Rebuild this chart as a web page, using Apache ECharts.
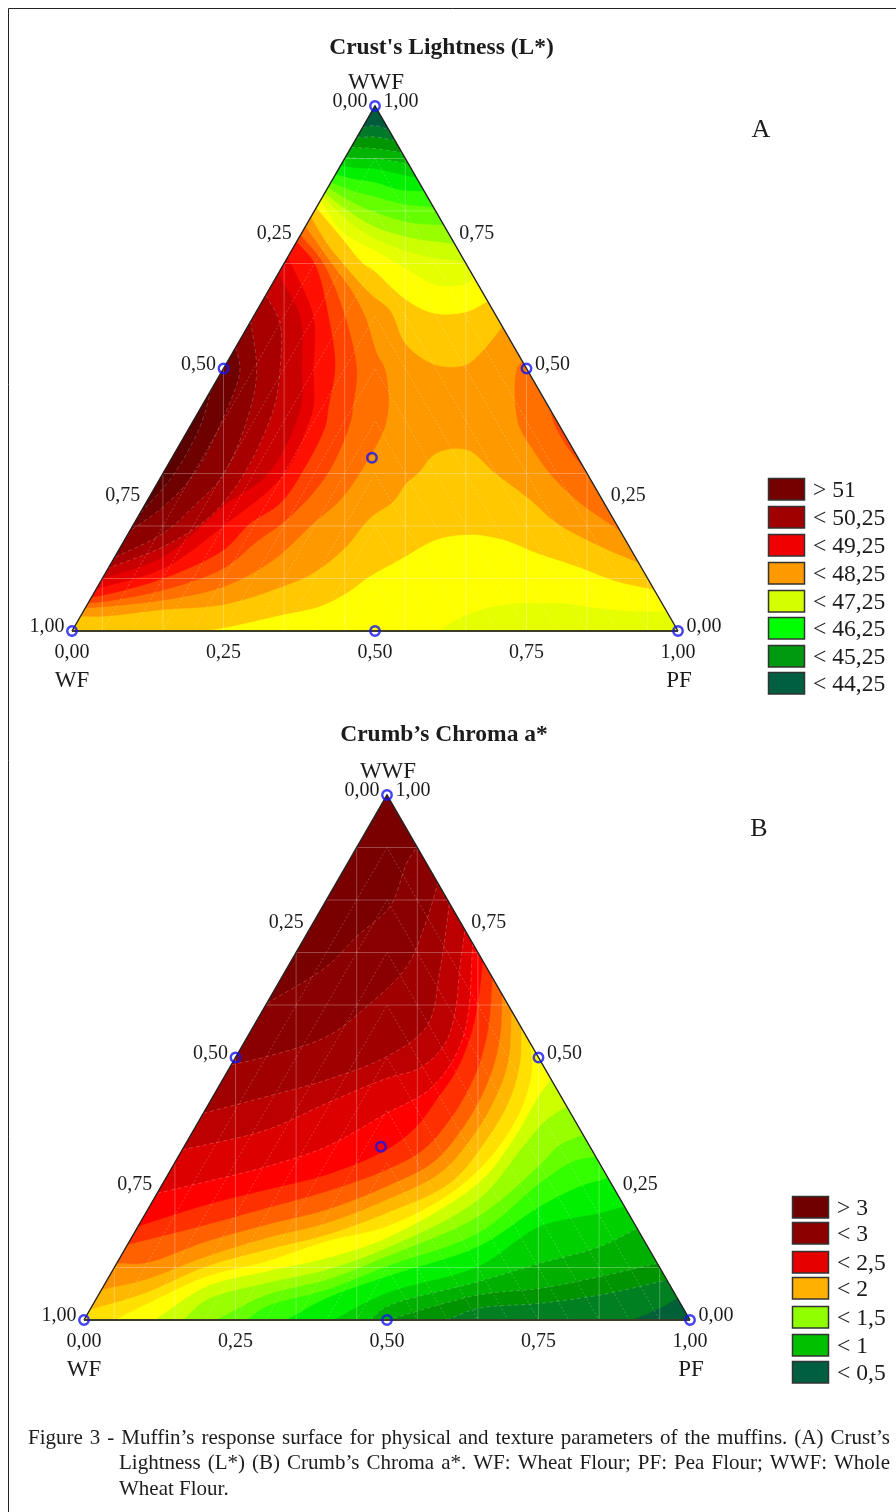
<!DOCTYPE html>
<html><head><meta charset="utf-8">
<style>html,body{margin:0;padding:0;background:#fff}#c{width:896px;height:1512px}</style>
<script src="https://cdn.jsdelivr.net/npm/echarts@6/dist/echarts.min.js"></script>
</head><body><div id="c"></div>
<script>
// All contour curves: [horizontal %, WWF %] in the ternary plot.
// ---------- Chart A : bands around the top vertex ----------
const A_top_colors=['#ffc800','#ffff00','#e6ff00','#ccff00','#99ff00','#66ff00','#33ff00','#00f000','#00d200','#00b400','#009600','#007a28','#005a3c'];
const A_c8=[[39.45,78.9],[42,74],[44.75,70],[49.17,64.32],[52.47,61.14],[55.22,54.47],[60.17,50.66],[64.85,50.66],[67.87,53.52],[71,58]];
const A_ff=[[40.33,80.66],[44.8,74.5],[48.05,70],[49.72,68.76],[55.22,63.04],[59.9,60.51],[65.12,60.82],[68.6,62.8]];
const A_e6=[[41,82],[44.77,75.9],[50,72.5],[55.5,68.76],[60.17,65.9],[65.12,66.22],[66.3,67.4]];
const A_b9=[[41.4,82.8],[45.5,78.2],[50,74.8],[57.2,71.7],[64.85,70.3]];
const A_b8=[[41.7,83.4],[45.8,79.9],[50,77],[56.5,74.8],[63.1,73.8]];
const A_b7=[[42.25,84.5],[46.1,81.8],[50,79.8],[55.5,77.9],[61.35,77.3]];
const A_b6=[[42.75,85.5],[46.3,83.9],[50,82.8],[54.9,81.3],[59.6,80.8]];
const A_b5=[[43.5,87],[46.7,86.1],[50,85.5],[54,84.1],[58.1,83.8]];
const A_b4=[[44.35,88.7],[47.2,88.2],[50,88.1],[53,87.3],[56.8,86.4]];
const A_b3=[[45.15,90.3],[47.5,90],[50,90],[52.5,89.6],[55.55,88.9]];
const A_b2=[[46.05,92.1],[50,91.9],[54.45,91.1]];
const A_b1=[[47,94],[50,94.1],[53.3,93.4]];
const A_b0=[[47.95,95.9],[50,96.3],[52.25,95.5]];
const A_top_curves=[A_c8,A_ff,A_e6,A_b9,A_b8,A_b7,A_b6,A_b5,A_b4,A_b3,A_b2,A_b1,A_b0];
// Chart A : bands rising from the bottom side
const A_bottom_colors=['#ffc800','#ffff00','#e6ff00'];
const A_d_c8=[[1.37,2.73],[5.17,2.73],[15.07,3.99],[24.97,4.95],[34.87,8.44],[39.82,10.98],[45.05,15.75],[49.18,21.46],[53.02,24.6],[55.22,28.13],[57.15,30.03],[60.17,33.84],[65.12,34.48],[69.8,30.03],[75.57,24.95],[79.97,20.51],[86.57,16.38],[93.56,12.89]];
const A_d_ff=[[22.2,0],[24.97,0.51],[34.87,3.05],[40.92,4.63],[45.33,7.17],[49.17,10.35],[54.12,13.53],[60.17,17.33],[65.67,18.29],[71.17,17.33],[76.67,14.79],[83.27,12.26],[89.87,9.4],[96.1,7.8]];
const A_d_e6=[[60.45,0],[64.57,2.73],[68.42,4.32],[72.82,5.14],[77.22,5.27],[82.17,5.08],[86.57,4.32],[93.17,3.68],[98.16,3.68]];
const A_bottom_curves=[A_d_c8,A_d_ff,A_d_e6];
// Chart A : patch on the right side
const A_right_colors=['#ff7000','#ff4400'];
const A_r_70=[[74.3,51.4],[73.37,49.72],[73.65,39.56],[76.12,34.48],[78.87,30.03],[83.27,24.95],[90.5,19]];
const A_r_44=[[78.95,42.1],[79.6,39.5],[81.5,35.5],[84.6,30.8]];
const A_right_curves=[A_r_70,A_r_44];
// Chart A : nested reds on the left side
const A_left_colors=['#ff7000','#ff4400','#ff1000','#e60000','#c80000','#a80000','#8c0000','#6e0000','#5a0000'];
const A_k70=[[38.5,77],[42.8,70],[46,65],[48.35,59.87],[50.27,52.89],[51.65,49.71],[51.92,40.19],[47.8,30.67],[44.22,24.95],[39.82,20.51],[33.22,13.52],[24.97,8.44],[15.07,5.91],[5.17,4.63],[2.2,4.4]];
const A_k44=[[37.7,75.4],[41.45,70],[45.05,59.87],[46.97,49.71],[46.42,43.36],[45.87,39.55],[42.02,29.72],[35.97,21.78],[30.47,17.02],[24.97,11.94],[15.07,7.81],[5.17,5.59],[2.65,5.3]];
const A_k10=[[37.05,74.1],[40,70],[42.3,59.9],[43.4,50.35],[42.3,42.73],[41.75,38.92],[38.17,30.67],[34.32,24.32],[29.37,20.51],[24.97,15.43],[15.07,10.03],[5.17,6.86],[3.25,6.5]];
const A_ke6=[[35.6,71.2],[39.8,59.87],[39.82,49.72],[39.82,42.73],[39,39.56],[34.87,29.72],[25.52,20.51],[15.07,11.94],[5.17,8.44],[4.05,8.1]];
const A_kc8=[[34,68],[37.62,59.87],[37.9,49.72],[37.62,42.1],[32.12,29.72],[25.52,24.32],[15.07,14.16],[5,10]];
const A_ka8=[[32,64],[34.32,58.6],[34.32,49.72],[33.22,42.1],[28.27,29.72],[22.77,21.78],[15.07,16.06],[6,12]];
const A_k8c=[[29.5,59],[30.47,49.72],[29.37,42.1],[24.97,29.72],[20.02,23.68],[15.07,18.6],[7,14]];
const A_k6e=[[27,54],[27.72,49.72],[25.52,42.1],[20.02,29.72],[15.07,23.68],[9.5,19]];
const A_k5a=[[23,46],[21.12,38.92],[16.72,29.72],[11,22]];
const A_left_curves=[A_k70,A_k44,A_k10,A_ke6,A_kc8,A_ka8,A_k8c,A_k6e,A_k5a];
const A_base_color='#ff9900';
// ---------- Chart B : every band seen from the PF / bottom side ----------
const B_base_color='#7a0000';
const B_colors=['#8a0000','#a00000','#bc0000','#dc0000','#ff0000','#ff3000','#ff6000','#ff9000','#ffb800','#ffe000','#ffff00','#ccff00','#99ff00','#66ff00','#33ff00','#00f000','#00d000','#00b000','#009400','#008020','#006038'];
const B_8c=[[30.2,60.3],[40.04,67.3],[44.99,73.02],[50.49,78.73],[53.24,86.99],[54.92,90.16]];
const B_a8=[[24.3,48.6],[30.14,50.16],[40.04,53.97],[46.64,59.68],[53.24,67.3],[56.54,76.19],[58.41,83.18]];
const B_c8=[[19.69,39.37],[30.14,42.54],[40.04,45.72],[49.94,50.16],[56.54,55.87],[58.74,66.67],[60.32,79.37]];
const B_e6=[[16.2,32.4],[30.14,36.19],[40.04,41.27],[49.95,46.03],[55.44,48],[59.5,52.5],[61.2,58.41],[62.04,67.3],[62.86,74.29]];
const B_ff=[[12.05,24.13],[20.24,26.35],[30.14,29.21],[40.04,33.02],[49.95,39.37],[56.54,43.49],[60.39,48.5],[62.6,54],[63.6,60],[63.9,66],[64.13,71.75]];
const B_30=[[8.91,17.78],[20.24,21.91],[30.14,24.76],[40.04,27.62],[49.95,32.38],[54.89,36.82],[58.19,41.9],[61.49,47.5],[63.8,53.97],[65,60],[65.87,68.26]];
const B_60=[[7.15,14.29],[20.24,18.1],[30.14,21.27],[40.04,24.45],[49.95,28.57],[55.99,32.38],[60.39,38.09],[63.5,44],[65.5,49.5],[66.8,56],[67.45,65.1]];
const B_90=[[5.39,10.79],[10.07,10.79],[20.24,14.92],[30.14,18.1],[40.04,20.95],[49.95,25.4],[57.64,30],[62.5,36.5],[65.8,43],[67.8,49],[68.8,55],[69.05,61.9]];
const B_b8=[[2.86,5.71],[10.07,7.62],[20.24,12.06],[30.14,15.56],[40.04,18.41],[49.95,22.86],[58.74,27.93],[64.2,35],[67.8,42],[70,49],[70.63,58.7]];
const B_e0=[[0.95,1.9],[10.07,5.08],[20.24,10.16],[30.14,13.33],[40.04,16.19],[49.95,20.32],[60.39,26.03],[66.44,34.28],[70.3,42],[72,49],[72.22,55.56]];
const B_y0=[[5.12,0],[10.07,2.86],[20.24,8.25],[30.14,11.11],[40.04,14.97],[49.95,17.78],[60.94,24.44],[68.09,32.38],[72.5,41],[74,48],[73.65,52.7]];
const B_cc=[[11.72,0],[20.24,6.35],[30.14,9.21],[40.04,11.75],[49.95,15.56],[65.07,26.03],[70.84,34.29],[74.69,41.9],[77.05,45.9]];
const B_99=[[16.39,0],[20.24,3.81],[30.14,6.98],[40.04,9.52],[49.95,13.65],[65.07,22.86],[72.49,33.02],[76.34,38.1],[79.68,40.63]];
const B_66=[[21.89,0],[30.14,4.76],[40.04,7.62],[49.95,12.06],[65.07,19.68],[75.24,29.52],[78.54,33.33],[82.38,35.24]];
const B_33=[[26.84,0],[30.14,2.54],[40.04,5.71],[49.95,10.16],[65.07,16.51],[75.24,26.03],[80.74,30.16],[84.44,31.11]];
const B_00=[[33.45,0],[40.04,4.13],[49.95,8.25],[65.07,13.97],[75.24,21.59],[81.84,25.4],[86.51,26.98]];
const B_d0=[[41.14,0],[49.95,5.08],[65.07,10.16],[75.24,17.78],[85.14,20.32],[89.2,21.59]];
const B_b0=[[47.2,0],[49.95,2.54],[65.07,7.3],[75.24,10.79],[85.14,13.97],[91.27,17.46]];
const B_9g=[[49.94,0],[65.07,4.76],[75.24,6.03],[85.14,8.25],[94.6,10.79]];
const B_7g=[[59.84,0],[65.07,2.22],[75.24,3.17],[85.14,4.76],[96.2,7.6]];
const B_6g=[[90.6,0],[95.6,2.54],[97.94,4.13]];
const B_curves=[B_8c,B_a8,B_c8,B_e6,B_ff,B_30,B_60,B_90,B_b8,B_e0,B_y0,B_cc,B_99,B_66,B_33,B_00,B_d0,B_b0,B_9g,B_7g,B_6g];
// ---------- mesh, design points, labels ----------
const grid_verticals=[5,15,25,35,45,55,65,75,85,95];
const A_grid_horizontals=[10,20,30,70,80,90];
const B_grid_horizontals=[10,60,70,80,90];
const chevron_levels=[10,20,30,40,50,60,70,80,90];
const A_mesh_curves=[A_ka8,A_k8c,A_k6e,A_k5a,A_b1,A_b2,A_b3,A_b0];
const B_mesh_curves=[B_8c,B_a8,B_c8,B_e6,B_ff,B_b0,B_9g,B_7g];
// design points as [WF, PF, WWF] %
const A_points=[[100,0,0],[0,100,0],[0,0,100],[50,50,0],[50,0,50],[0,50,50],[34,33,33]];
const B_points=[[100,0,0],[0,100,0],[0,0,100],[50,50,0],[50,0,50],[0,50,50],[34.5,32.5,33]];
const tick_values=[0,25,50,75,100];
const tick_labels=['0,00','0,25','0,50','0,75','1,00'];
const corner_names=['WF','PF','WWF'];
const A_title="Crust's Lightness (L*)", B_title="Crumb’s Chroma a*";
const A_legend_labels=['> 51','< 50,25','< 49,25','< 48,25','< 47,25','< 46,25','< 45,25','< 44,25'];
const A_legend_colors=['#760000','#a00000','#f00000','#ff9900','#d4ff00','#00ff00','#009a10','#005f40'];
const B_legend_labels=['> 3','< 3','< 2,5','< 2','< 1,5','< 1','< 0,5'];
const B_legend_colors=['#700000','#8c0000','#e60000','#ffb000','#90ff00','#00c000','#005f40'];
const caption_lines=["Figure 3 - Muffin’s response surface for physical and texture parameters of the muffins. (A) Crust’s","Lightness (L*) (B) Crumb’s Chroma a*. WF: Wheat Flour; PF: Pea Flour; WWF: Whole","Wheat Flour."];

const FONT='"Liberation Serif","Times New Roman",serif';
const INK='#1c1c1c';
const WF=[0,0],PF=[100,0],TOP=[50,100];
// rendering only: rounds a read curve with a centripetal spline between its read points
function rounded(c){
  if(c.length<3)return c;
  const out=[c[0]];
  const d=(a,b)=>Math.max(1e-3,Math.sqrt(Math.hypot(a[0]-b[0],a[1]-b[1])));
  const lerp=(a,b,ta,tb,t)=>[a[0]+(b[0]-a[0])*(t-ta)/(tb-ta),a[1]+(b[1]-a[1])*(t-ta)/(tb-ta)];
  for(let i=0;i<c.length-1;i++){
    const p1=c[i],p2=c[i+1];
    const p0=i>0?c[i-1]:[2*p1[0]-p2[0],2*p1[1]-p2[1]];
    const p3=i<c.length-2?c[i+2]:[2*p2[0]-p1[0],2*p2[1]-p1[1]];
    const t0=0,t1=t0+d(p0,p1),t2=t1+d(p1,p2),t3=t2+d(p2,p3);
    for(let s=1;s<=8;s++){
      const t=t1+(t2-t1)*s/8;
      const a1=lerp(p0,p1,t0,t1,t),a2=lerp(p1,p2,t1,t2,t),a3=lerp(p2,p3,t2,t3,t);
      const b1=lerp(a1,a2,t0,t2,t),b2=lerp(a2,a3,t1,t3,t);
      out.push(lerp(b1,b2,t1,t2,t));
    }
  }
  return out;
}
function polygons(c,kind){
  const r=rounded(c);
  if(kind==='top')return r.concat([TOP]);
  if(kind==='bottom')return c[0][1]>0?r.concat([PF,WF]):r.concat([PF]);
  return r;
}
function fills(gi,layers){
  return {type:'custom',coordinateSystem:'cartesian2d',xAxisIndex:gi,yAxisIndex:gi,silent:true,animation:false,clip:false,z:2,
    data:layers.map((_,i)=>i),
    renderItem:(p,api)=>{const l=layers[p.dataIndex];
      return {type:'polygon',shape:{points:l.pts.map(q=>api.coord(q))},
        clipPath:{type:'polygon',shape:{points:[WF,PF,TOP].map(q=>api.coord(q))}},
        style:{fill:l.color,stroke:l.color,lineWidth:0.5}};}};
}
function lines(gi,segs){
  return {type:'custom',coordinateSystem:'cartesian2d',xAxisIndex:gi,yAxisIndex:gi,silent:true,animation:false,clip:false,z:3,
    data:segs.map((_,i)=>i),
    renderItem:(p,api)=>{const s=segs[p.dataIndex];
      return {type:'polyline',shape:{points:s.pts.map(q=>api.coord(q))},style:{fill:null,stroke:s.color,lineWidth:s.w||1,lineDash:s.dash||null}};}};
}
function texts(gi,items){
  return {type:'custom',coordinateSystem:'cartesian2d',xAxisIndex:gi,yAxisIndex:gi,silent:true,animation:false,clip:false,z:6,
    data:items.map((_,i)=>i),
    renderItem:(p,api)=>{const t=items[p.dataIndex];const c=api.coord(t.at);
      return {type:'text',style:{x:c[0]+t.dx,y:c[1]+t.dy,text:t.text,font:t.font,fill:INK,align:'center',verticalAlign:'middle'}};}};
}
function mesh(hs,curves){
  const out=[];const solid='rgba(255,255,255,0.28)',dash='rgba(255,255,255,0.22)';
  grid_verticals.forEach(x=>out.push({pts:[[x,0],[x,2*Math.min(x,100-x)]],color:solid}));
  hs.forEach(y=>out.push({pts:[[y/2,y],[100-y/2,y]],color:solid}));
  chevron_levels.forEach(k=>out.push({pts:[[50-k/2,0],[50,k],[50+k/2,0]],color:dash,dash:[2,2]}));
  curves.forEach(c=>out.push({pts:rounded(c),color:dash,dash:[4,3]}));
  return out;
}
function chartSeries(gi,layers,hs,curves,pts){
  const tf='20px '+FONT, nf='23px '+FONT;
  const labels=[];
  tick_values.forEach((t,i)=>{
    labels.push({at:[(100-t)/2,100-t],dx:-25,dy:-4,text:tick_labels[i],font:tf});
    labels.push({at:[100-t/2,t],dx:26,dy:-4,text:tick_labels[i],font:tf});
    labels.push({at:[t,0],dx:0,dy:22,text:tick_labels[i],font:tf});
  });
  labels.push({at:WF,dx:0,dy:50,text:corner_names[0],font:nf});
  labels.push({at:PF,dx:1,dy:50,text:corner_names[1],font:nf});
  labels.push({at:TOP,dx:1,dy:-23,text:corner_names[2],font:nf});
  return [
    fills(gi,layers),
    lines(gi,mesh(hs,curves)),
    lines(gi,[{pts:[WF,TOP,PF],color:'#222',w:1.4},{pts:[WF,PF],color:'#3c3c28',w:2.2}]),
    {type:'scatter',xAxisIndex:gi,yAxisIndex:gi,silent:true,animation:false,clip:false,z:5,symbol:'circle',symbolSize:9.5,
      data:pts.map(c=>[c[1]+c[2]/2,c[2]]),
      itemStyle:{color:'rgba(0,0,0,0)',borderColor:'#1414f0',borderWidth:2.4}},
    texts(gi,labels)
  ];
}
const A_layers=[{pts:[WF,PF,TOP],color:A_base_color}]
  .concat(A_top_curves.map((c,i)=>({pts:polygons(c,'top'),color:A_top_colors[i]})))
  .concat(A_bottom_curves.map((c,i)=>({pts:polygons(c,'bottom'),color:A_bottom_colors[i]})))
  .concat(A_right_curves.map((c,i)=>({pts:polygons(c,'open'),color:A_right_colors[i]})))
  .concat(A_left_curves.map((c,i)=>({pts:polygons(c,'open'),color:A_left_colors[i]})));
const B_layers=[{pts:[WF,PF,TOP],color:B_base_color}]
  .concat(B_curves.map((c,i)=>({pts:polygons(c,'bottom'),color:B_colors[i]})));

function legend(x,tx,ys,h,labels,colors){
  const g=[];
  labels.forEach((l,i)=>{
    g.push({type:'rect',shape:{x:x+.5,y:ys[i]+.5,width:36,height:h},style:{fill:colors[i],stroke:'#333',lineWidth:1.5}});
    g.push({type:'text',style:{x:tx,y:ys[i]+h/2+2,text:l,font:'23.6px '+FONT,fill:INK,verticalAlign:'middle'}});
  });
  return g;
}
const A_legend_rows=[478,506,534,562,590,617,645,672];
const B_legend_rows=[1196,1222,1251,1277,1306,1334,1361];
const txt=(x,y,text,font,align)=>({type:'text',style:{x,y,text,font,fill:INK,align:align||'center',verticalAlign:'middle'}});
// caption lines justified between their margins, word by word
const CAP='21px '+FONT;
const meas=document.createElement('canvas').getContext('2d');meas.font=CAP;
function justified(line,x0,x1,y){
  const words=line.split(' ');
  const total=words.reduce((a,w)=>a+meas.measureText(w).width,0);
  const gap=(x1-x0-total)/(words.length-1);
  let x=x0;const out=[];
  words.forEach(w=>{out.push(txt(x,y,w,CAP,'left'));x+=meas.measureText(w).width+gap;});
  return out;
}
const graphic=[
  {type:'rect',shape:{x:8.5,y:8.5,width:900,height:1530},style:{fill:null,stroke:'#222',lineWidth:1}},
  txt(441.5,47.5,A_title,'bold 23.5px '+FONT),
  txt(444,734.5,B_title,'bold 23.5px '+FONT),
  txt(761,130,'A','26px '+FONT),
  txt(759,829,'B','26px '+FONT),
  txt(119,1489,caption_lines[2],CAP,'left')
].concat(justified(caption_lines[0],28,890,1438))
 .concat(justified(caption_lines[1],119,890,1463))
 .concat(legend(768,813,A_legend_rows,21.5,A_legend_labels,A_legend_colors))
 .concat(legend(792,837,B_legend_rows,21.5,B_legend_labels,B_legend_colors));

const ax=i=>({type:'value',gridIndex:i,min:0,max:100,show:false});
const chart=echarts.init(document.getElementById('c'),null,{renderer:'canvas'});
chart.setOption({
  animation:false,backgroundColor:'#fff',tooltip:{show:false},
  grid:[{left:72,top:106,width:606,height:525},{left:84,top:795,width:606,height:525}],
  xAxis:[ax(0),ax(1)],yAxis:[ax(0),ax(1)],
  series:chartSeries(0,A_layers,A_grid_horizontals,A_mesh_curves,A_points)
    .concat(chartSeries(1,B_layers,B_grid_horizontals,B_mesh_curves,B_points)),
  graphic:{elements:graphic}
});
</script></body></html>
